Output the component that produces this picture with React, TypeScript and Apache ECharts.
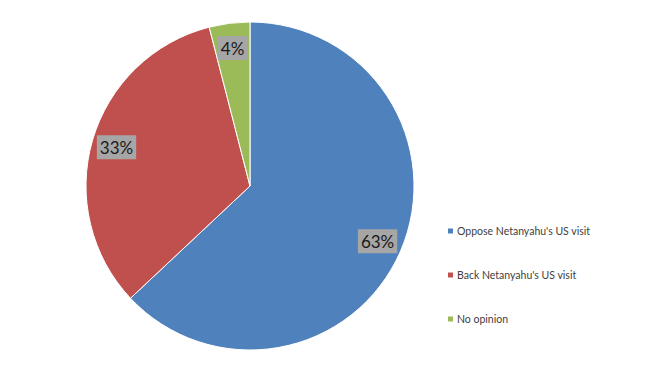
import React, { useEffect, useRef } from "react";
import * as echarts from "echarts";

const categories = ["Oppose Netanyahu's US visit", "Back Netanyahu's US visit", "No opinion"];
const values = [63, 33, 4];
const colors = ["#4F81BD", "#C0504D", "#9BBB59"];

export default function App() {
  const ref = useRef<HTMLDivElement>(null);
  useEffect(() => {
    if (!ref.current) return;
    const chart = echarts.init(ref.current, undefined, { renderer: "svg" });
    const data = categories.map((name, i) => ({ name, value: values[i], itemStyle: { color: colors[i] } }));
    const labelData = categories.map((name, i) => ({ name, value: values[i] }));
    chart.setOption({
      animation: false,
      backgroundColor: "#ffffff",
      legend: {
        orient: "vertical",
        left: 441,
        top: 219,
        data: categories,
        icon: "rect",
        itemWidth: 7,
        itemHeight: 7,
        itemGap: 30,
        textStyle: { fontFamily: "Lato", fontSize: 10.5, color: "#404040", lineHeight: 14, padding: [0, 0, 0, -2] },
      },
      series: [
        {
          type: "pie",
          center: [250, 186],
          radius: 164,
          startAngle: 90,
          clockwise: true,
          label: { show: false },
          labelLine: { show: false },
          itemStyle: { borderColor: "#ffffff", borderWidth: 1 },
          emphasis: { disabled: true },
          data,
        },
        {
          type: "pie",
          center: [250, 186],
          radius: [108, 164],
          startAngle: 90,
          clockwise: true,
          silent: true,
          itemStyle: { color: "rgba(0,0,0,0)" },
          emphasis: { disabled: true },
          label: {
            show: true,
            position: "inside",
            formatter: "{c}%",
            fontFamily: "Lato",
            fontSize: 17,
            lineHeight: 18,
            color: "#1a1a1a",
            backgroundColor: "#a6a6a6",
            padding: [3, 3, 3, 3],
          },
          labelLine: { show: false },
          data: labelData,
        },
      ],
    });
    return () => chart.dispose();
  }, []);
  return <div ref={ref} style={{ position: "fixed", left: 0, top: 0, width: 650, height: 366 }} />;
}
